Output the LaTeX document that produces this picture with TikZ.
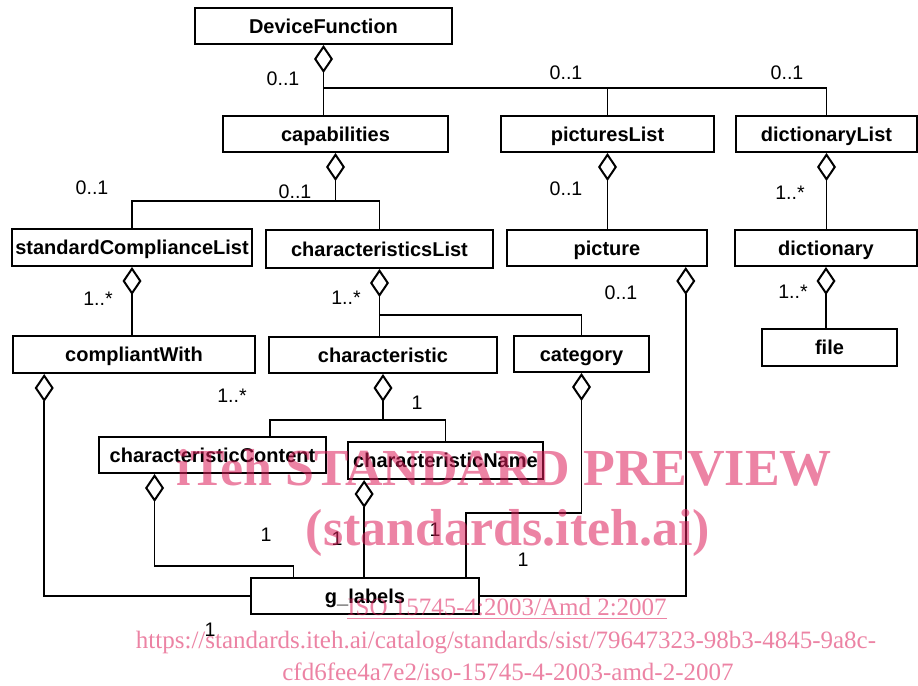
\documentclass[tikz,border=0pt]{standalone}
\usepackage{fontspec}
\setmainfont{Liberation Sans}
\newfontfamily\wmserif{Liberation Serif}
\usetikzlibrary{arrows.meta,calc}
\definecolor{wmred}{RGB}{220,30,90}
\begin{document}
\begin{tikzpicture}[x=0.5pt,y=-0.5pt,
  cls/.style={draw, line width=1pt, inner sep=0pt, minimum height=18pt,
    font=\bfseries\fontsize{10}{12}\selectfont, text height=7pt, text depth=0pt},
  mult/.style={inner sep=0pt, font=\fontsize{9.8}{12}\selectfont},
  link/.style={line width=0.8pt},
  agg/.style={line width=0.8pt, arrows={Diamond[open,length=14pt,width=9.5pt,line width=1pt]-}},
  wm/.style={text=wmred, text opacity=0.55, inner sep=0pt, anchor=base}
]
\useasboundingbox (0,0) rectangle (918,686);

% classes
\node[cls, minimum width=128.5pt]                      (df)   at (323.5,26)    {DeviceFunction};
\node[cls, minimum width=112.5pt]                      (cap)  at (335.5,134)   {capabilities};
\node[cls, minimum width=106.5pt]                      (pl)   at (607.5,134)   {picturesList};
\node[cls, minimum width=90.5pt]                       (dl)   at (826.5,134)   {dictionaryList};
\node[cls, minimum width=120pt, minimum height=18.5pt] (scl)  at (132,247.5)   {standardComplianceList};
\node[cls, minimum width=113.5pt, minimum height=19pt] (cl)   at (379.5,249)   {characteristicsList};
\node[cls, minimum width=100pt]                        (pic)  at (607,248)     {picture};
\node[cls, minimum width=91pt]                         (dic)  at (826,248)     {dictionary};
\node[cls, minimum width=121pt, minimum height=18.5pt] (cw)   at (134,354.5)   {compliantWith};
\node[cls, minimum width=114pt]                        (ch)   at (383,355)     {characteristic};
\node[cls, minimum width=67.5pt]                       (cat)  at (581.5,354)   {category};
\node[cls, minimum width=67.5pt, minimum height=18.5pt](file) at (829.5,347.5) {file};
\node[cls, minimum width=113.5pt]                      (cc)   at (212.5,455)   {characteristicContent};
\node[cls, minimum width=97.5pt, minimum height=18.5pt](cn)   at (445.5,460.5) {characteristicName};
\node[cls, minimum width=114pt]                        (gl)   at (365,596)     {g\_labels};

% bend levels of the tree connectors
\coordinate (j1) at (0,88);
\coordinate (j2) at (0,201);
\coordinate (j3) at (0,315);
\coordinate (j4) at (0,420);
\coordinate (j5) at (0,566);
\coordinate (j6) at (0,513);

% attachment points off the box centres
\coordinate (ccT)  at ($(cc.north west)!0.75!(cc.north east)$);
\coordinate (ccB)  at ($(cc.south west)!0.247!(cc.south east)$);
\coordinate (cwB)  at ($(cw.south west)!0.132!(cw.south east)$);
\coordinate (cnB)  at ($(cn.south west)!0.087!(cn.south east)$);
\coordinate (picB) at ($(pic.south west)!0.89!(pic.south east)$);
\coordinate (glA)  at ($(gl.north west)!0.189!(gl.north east)$);
\coordinate (glC)  at ($(gl.north west)!0.939!(gl.north east)$);

% aggregations
\draw[agg] (df.south) -- (df.south |- cap.north);
\draw[link] (df.south |- j1) -| (pl.north);
\draw[link] (df.south |- j1) -| (dl.north);

\draw[agg] (cap.south) -- (cap.south |- j2);
\draw[link] (cap.south |- j2) -| (scl.north);
\draw[link] (cap.south |- j2) -| (cl.north);

\draw[agg] (pl.south) -- (pl.south |- pic.north);
\draw[agg] (dl.south) -- (dl.south |- dic.north);
\draw[agg] (dic.south) -- (dic.south |- file.north);
\draw[agg] (scl.south) -- (scl.south |- cw.north);

\draw[agg] (cl.south) -- (cl.south |- ch.north);
\draw[link] (cl.south |- j3) -| (cat.north);

\draw[agg] (ch.south) -- (ch.south |- j4);
\draw[link] (ch.south |- j4) -| (ccT);
\draw[link] (ch.south |- j4) -| (cn.north);

\draw[agg] (cwB) |- (gl.west);
\draw[agg] (ccB) |- (glA |- j5) -- (glA);
\draw[agg] (cnB) -- (cnB |- gl.north);
\draw[agg] (cat.south) |- (glC |- j6) -- (glC);
\draw[agg] (picB) |- (gl.east);

% multiplicities
\node[mult] (m1)  at (283,79)  {0..1};
\node[mult] (m2)  at (566,73)  {0..1};
\node[mult] (m3)  at (787,73)  {0..1};
\node[mult] (m4)  at (92,188)  {0..1};
\node[mult] (m5)  at (295,192) {0..1};
\node[mult] (m6)  at (566,189) {0..1};
\node[mult] (m7)  at (790,193) {1..*};
\node[mult] (m8)  at (98,299)  {1..*};
\node[mult] (m9)  at (346,298) {1..*};
\node[mult] (m10) at (621,293) {0..1};
\node[mult] (m11) at (793,292) {1..*};
\node[mult] (m12) at (232,396) {1..*};
\node[mult] (m13) at (417,403) {1};
\node[mult] (m14) at (266,535) {1};
\node[mult] (m15) at (337,539) {1};
\node[mult] (m16) at (435,530) {1};
\node[mult] (m17) at (523,560) {1};
\node[mult] (m18) at (210,630) {1};

% preview stamp
\node[wm, font=\wmserif\bfseries\fontsize{26}{28}\selectfont] (w1) at (504,485) {iTeh STANDARD PREVIEW};
\node[wm, font=\wmserif\bfseries\fontsize{26}{28}\selectfont] (w2) at (508,545) {(standards.iteh.ai)};
\node[wm, font=\wmserif\fontsize{12.5}{14}\selectfont] (w3) at (507,615) {\underline{ISO 15745-4:2003/Amd 2:2007}};
\node[wm, font=\wmserif\fontsize{12.5}{14}\selectfont] (w4) at (506,648) {https://standards.iteh.ai/catalog/standards/sist/79647323-98b3-4845-9a8c-};
\node[wm, font=\wmserif\fontsize{12.5}{14}\selectfont] (w5) at (508,680) {cfd6fee4a7e2/iso-15745-4-2003-amd-2-2007};
\end{tikzpicture}
\end{document}
